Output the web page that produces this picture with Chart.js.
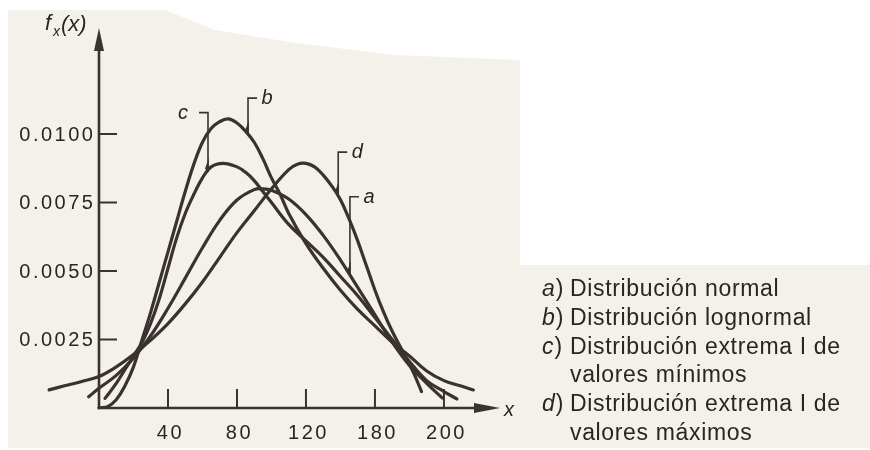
<!DOCTYPE html>
<html><head><meta charset="utf-8">
<script src="https://cdn.jsdelivr.net/npm/chart.js@4"></script>
<style>html,body{margin:0;padding:0;background:#fff;}canvas{display:block;}</style>
</head><body>
<canvas id="c" width="870" height="450"></canvas>
<script>
// ---- data ----
const normalX = [-6, 0, 10, 20, 30, 40, 50, 60, 70, 80, 90, 95, 100, 110, 120, 130, 140, 150, 160, 170, 180, 190, 199];
const normalY = [0.00041, 0.00072, 0.00119, 0.00182, 0.00264, 0.00364, 0.00474, 0.00585, 0.00685, 0.00759, 0.00797, 0.0080, 0.00795, 0.00763, 0.00706, 0.0063, 0.0054, 0.0044, 0.0034, 0.0024, 0.00155, 0.0009, 0.00037];

const lognormalX = [0, 5, 10, 15, 20, 25, 30, 35, 40, 45, 50, 55, 60, 65, 70, 75, 80, 85, 90, 95, 100, 105, 110, 120, 130, 140, 150, 160, 170, 180, 190, 200, 210, 217];
const lognormalY = [0, 0.00005, 0.0003, 0.0008, 0.0015, 0.0025, 0.0035, 0.0046, 0.0057, 0.0068, 0.0079, 0.0089, 0.0097, 0.0102, 0.01045, 0.01055, 0.0104, 0.0101, 0.0097, 0.0091, 0.0084, 0.0078, 0.0071, 0.0060, 0.0051, 0.0043, 0.0036, 0.0030, 0.0024, 0.0019, 0.00135, 0.0010, 0.0008, 0.00066];

const extMinX = [3.5, 10, 15, 20, 25, 30, 35, 40, 45, 50, 55, 60, 65, 72, 80, 85, 90, 95, 100, 110, 120, 130, 140, 150, 160, 170, 180, 190, 200, 207.5];
const extMinY = [0.00035, 0.0009, 0.0014, 0.0019, 0.0024, 0.0031, 0.0040, 0.0051, 0.0062, 0.0071, 0.0078, 0.0084, 0.0088, 0.00893, 0.0088, 0.0086, 0.0083, 0.0079, 0.0075, 0.0067, 0.0061, 0.0055, 0.0048, 0.0041, 0.0033, 0.0025, 0.0017, 0.0010, 0.0006, 0.00033];

const extMaxX = [-29, -20, -10, 0, 10, 20, 30, 40, 50, 60, 70, 80, 90, 100, 110, 115, 120, 125, 130, 135, 140, 145, 150, 155, 160, 165, 170, 175, 180, 183, 187];
const extMaxY = [0.00066, 0.00081, 0.00097, 0.00115, 0.0015, 0.00195, 0.00248, 0.00308, 0.0038, 0.0046, 0.0055, 0.0064, 0.0072, 0.0080, 0.0087, 0.0089, 0.00893, 0.0088, 0.0085, 0.0081, 0.0076, 0.0069, 0.0061, 0.0052, 0.0043, 0.0035, 0.0028, 0.0022, 0.0016, 0.0012, 0.0006];

const xTickValues = [40, 80, 120, 160, 200];
const xTickLabels = ['40', '80', '120', '180', '200'];
const yTickValues = [0.0025, 0.005, 0.0075, 0.01];
const yTickLabels = ['0.0025', '0.0050', '0.0075', '0.0100'];

// curve call-outs (data units): letter, x of leader, top of leader, point on curve
const curveLabels = ['a', 'b', 'c', 'd'];
const leaderX = [145.5, 86.4, 63.2, 138.7];
const leaderTop = [0.00771, 0.01131, 0.01078, 0.00934];
const leaderBottom = [0.00485, 0.0100, 0.00862, 0.0078];
const leaderSide = [1, 1, -1, 1];

const legendKeys = ['a', 'b', 'c', 'd'];
const legendTexts = [
  ['Distribución normal'],
  ['Distribución lognormal'],
  ['Distribución extrema I de', 'valores mínimos'],
  ['Distribución extrema I de', 'valores máximos']
];

// ---- drawing ----
const INK = '#3a3230';
const TEXT = '#2a2523';
const PAPER = '#f4f1ea';

function pts(xs, ys) { return xs.map((x, i) => ({ x: x, y: ys[i] })); }

const figPlugin = {
  id: 'fig',
  beforeDraw(chart) {
    const ctx = chart.ctx;
    ctx.save();
    ctx.fillStyle = '#ffffff';
    ctx.fillRect(0, 0, chart.width, chart.height);
    ctx.fillStyle = PAPER;
    ctx.beginPath();
    ctx.moveTo(8, 10); ctx.lineTo(165, 10); ctx.lineTo(190, 20); ctx.lineTo(215, 30);
    ctx.lineTo(296, 43); ctx.lineTo(395, 55); ctx.lineTo(520, 60); ctx.lineTo(520, 265);
    ctx.lineTo(870, 265); ctx.lineTo(870, 448); ctx.lineTo(8, 448); ctx.closePath();
    ctx.fill();
    ctx.restore();
  },
  beforeDatasetsDraw(chart) {
    const ctx = chart.ctx, xs = chart.scales.x, ys = chart.scales.y;
    const x0 = xs.getPixelForValue(0), y0 = ys.getPixelForValue(0);
    const xEnd = xs.right, yEnd = ys.top;
    ctx.save();
    ctx.strokeStyle = INK; ctx.fillStyle = INK; ctx.lineWidth = 2.6;
    ctx.beginPath(); ctx.moveTo(x0, y0 + 1.3); ctx.lineTo(x0, yEnd + 18); ctx.stroke();
    ctx.beginPath(); ctx.moveTo(x0, yEnd); ctx.lineTo(x0 - 5, yEnd + 23); ctx.lineTo(x0 + 5, yEnd + 23); ctx.closePath(); ctx.fill();
    ctx.beginPath(); ctx.moveTo(x0 - 1.3, y0); ctx.lineTo(xEnd - 20, y0); ctx.stroke();
    ctx.beginPath(); ctx.moveTo(xEnd, y0); ctx.lineTo(xEnd - 26, y0 - 5); ctx.lineTo(xEnd - 26, y0 + 5); ctx.closePath(); ctx.fill();
    ctx.lineWidth = 2;
    xTickValues.forEach(v => {
      const p = xs.getPixelForValue(v);
      ctx.beginPath(); ctx.moveTo(p, y0); ctx.lineTo(p, y0 - 19); ctx.stroke();
    });
    yTickValues.forEach(v => {
      const p = ys.getPixelForValue(v);
      ctx.beginPath(); ctx.moveTo(x0, p); ctx.lineTo(x0 + 18, p); ctx.stroke();
    });
    ctx.fillStyle = TEXT;
    ctx.font = '20px "Liberation Sans", Arial, sans-serif';
    ctx.letterSpacing = '2.5px';
    ctx.textBaseline = 'middle';
    ctx.textAlign = 'center';
    xTickValues.forEach((v, i) => ctx.fillText(xTickLabels[i], xs.getPixelForValue(v) + 2.5, y0 + 25));
    ctx.textAlign = 'right';
    yTickValues.forEach((v, i) => ctx.fillText(yTickLabels[i], x0 - 6 + 2.5, ys.getPixelForValue(v) + 1));
    ctx.letterSpacing = '0px';
    // axis titles
    ctx.textAlign = 'left'; ctx.textBaseline = 'alphabetic';
    ctx.font = 'italic 22px "Liberation Sans", Arial, sans-serif';
    ctx.fillText('f', 45, 30);
    ctx.font = 'italic 14px "Liberation Sans", Arial, sans-serif';
    ctx.fillText('x', 53, 36);
    ctx.font = 'italic 22px "Liberation Sans", Arial, sans-serif';
    ctx.fillText('(x)', 61, 31);
    ctx.font = 'italic 20px "Liberation Sans", Arial, sans-serif';
    ctx.fillText('x', xEnd + 4, y0 + 8);
    ctx.restore();
  },
  afterDatasetsDraw(chart) {
    const ctx = chart.ctx, xs = chart.scales.x, ys = chart.scales.y;
    ctx.save();
    ctx.strokeStyle = INK; ctx.fillStyle = INK;
    curveLabels.forEach((lab, i) => {
      const lx = xs.getPixelForValue(leaderX[i]);
      const top = ys.getPixelForValue(leaderTop[i]);
      const bot = ys.getPixelForValue(leaderBottom[i]);
      const dir = leaderSide[i];
      ctx.lineWidth = 1.6;
      ctx.beginPath(); ctx.moveTo(lx + dir * 9, top); ctx.lineTo(lx, top); ctx.lineTo(lx, bot); ctx.stroke();
      ctx.beginPath(); ctx.moveTo(lx + 0.8, bot - 14); ctx.lineTo(lx - 3, bot - 3); ctx.lineTo(lx + 0.8, bot); ctx.closePath(); ctx.fill();
      ctx.fillStyle = TEXT;
      ctx.font = 'italic 20px "Liberation Sans", Arial, sans-serif';
      ctx.textAlign = 'center'; ctx.textBaseline = 'alphabetic';
      ctx.fillText(lab, lx + (dir > 0 ? 19 : -25), top + 6);
      ctx.fillStyle = INK;
    });
    // legend
    ctx.fillStyle = TEXT;
    ctx.textAlign = 'left'; ctx.textBaseline = 'alphabetic';
    let base = 296;
    legendKeys.forEach((k, i) => {
      ctx.letterSpacing = '0px';
      ctx.font = 'italic 23px "Liberation Sans", Arial, sans-serif';
      ctx.fillText(k, 542, base);
      const w = ctx.measureText(k).width;
      ctx.font = '23px "Liberation Sans", Arial, sans-serif';
      ctx.fillText(')', 542 + w + 1, base);
      ctx.letterSpacing = '0.65px';
      legendTexts[i].forEach((t, j) => {
        ctx.fillText(t, 570, base);
        base += 28.8;
      });
    });
    ctx.restore();
  }
};

const lineStyle = { borderColor: INK, borderWidth: 3.2, pointRadius: 0, fill: false, tension: 0.4, borderCapStyle: 'round', borderJoinStyle: 'round' };

new Chart(document.getElementById('c'), {
  type: 'line',
  data: {
    datasets: [
      Object.assign({ label: 'a) Distribución normal', data: pts(normalX, normalY) }, lineStyle),
      Object.assign({ label: 'b) Distribución lognormal', data: pts(lognormalX, lognormalY) }, lineStyle),
      Object.assign({ label: 'c) Distribución extrema I de valores mínimos', data: pts(extMinX, extMinY) }, lineStyle),
      Object.assign({ label: 'd) Distribución extrema I de valores máximos', data: pts(extMaxX, extMaxY) }, lineStyle)
    ]
  },
  options: {
    responsive: false,
    animation: false,
    events: [],
    layout: { padding: { left: 47.25, right: 370, top: 28, bottom: 42 } },
    plugins: { legend: { display: false }, tooltip: { enabled: false }, title: { display: false } },
    scales: {
      x: { type: 'linear', min: -30, max: 232.5, display: false },
      y: { type: 'linear', min: 0, max: 0.013869, display: false }
    }
  },
  plugins: [figPlugin]
});
</script>
</body></html>
